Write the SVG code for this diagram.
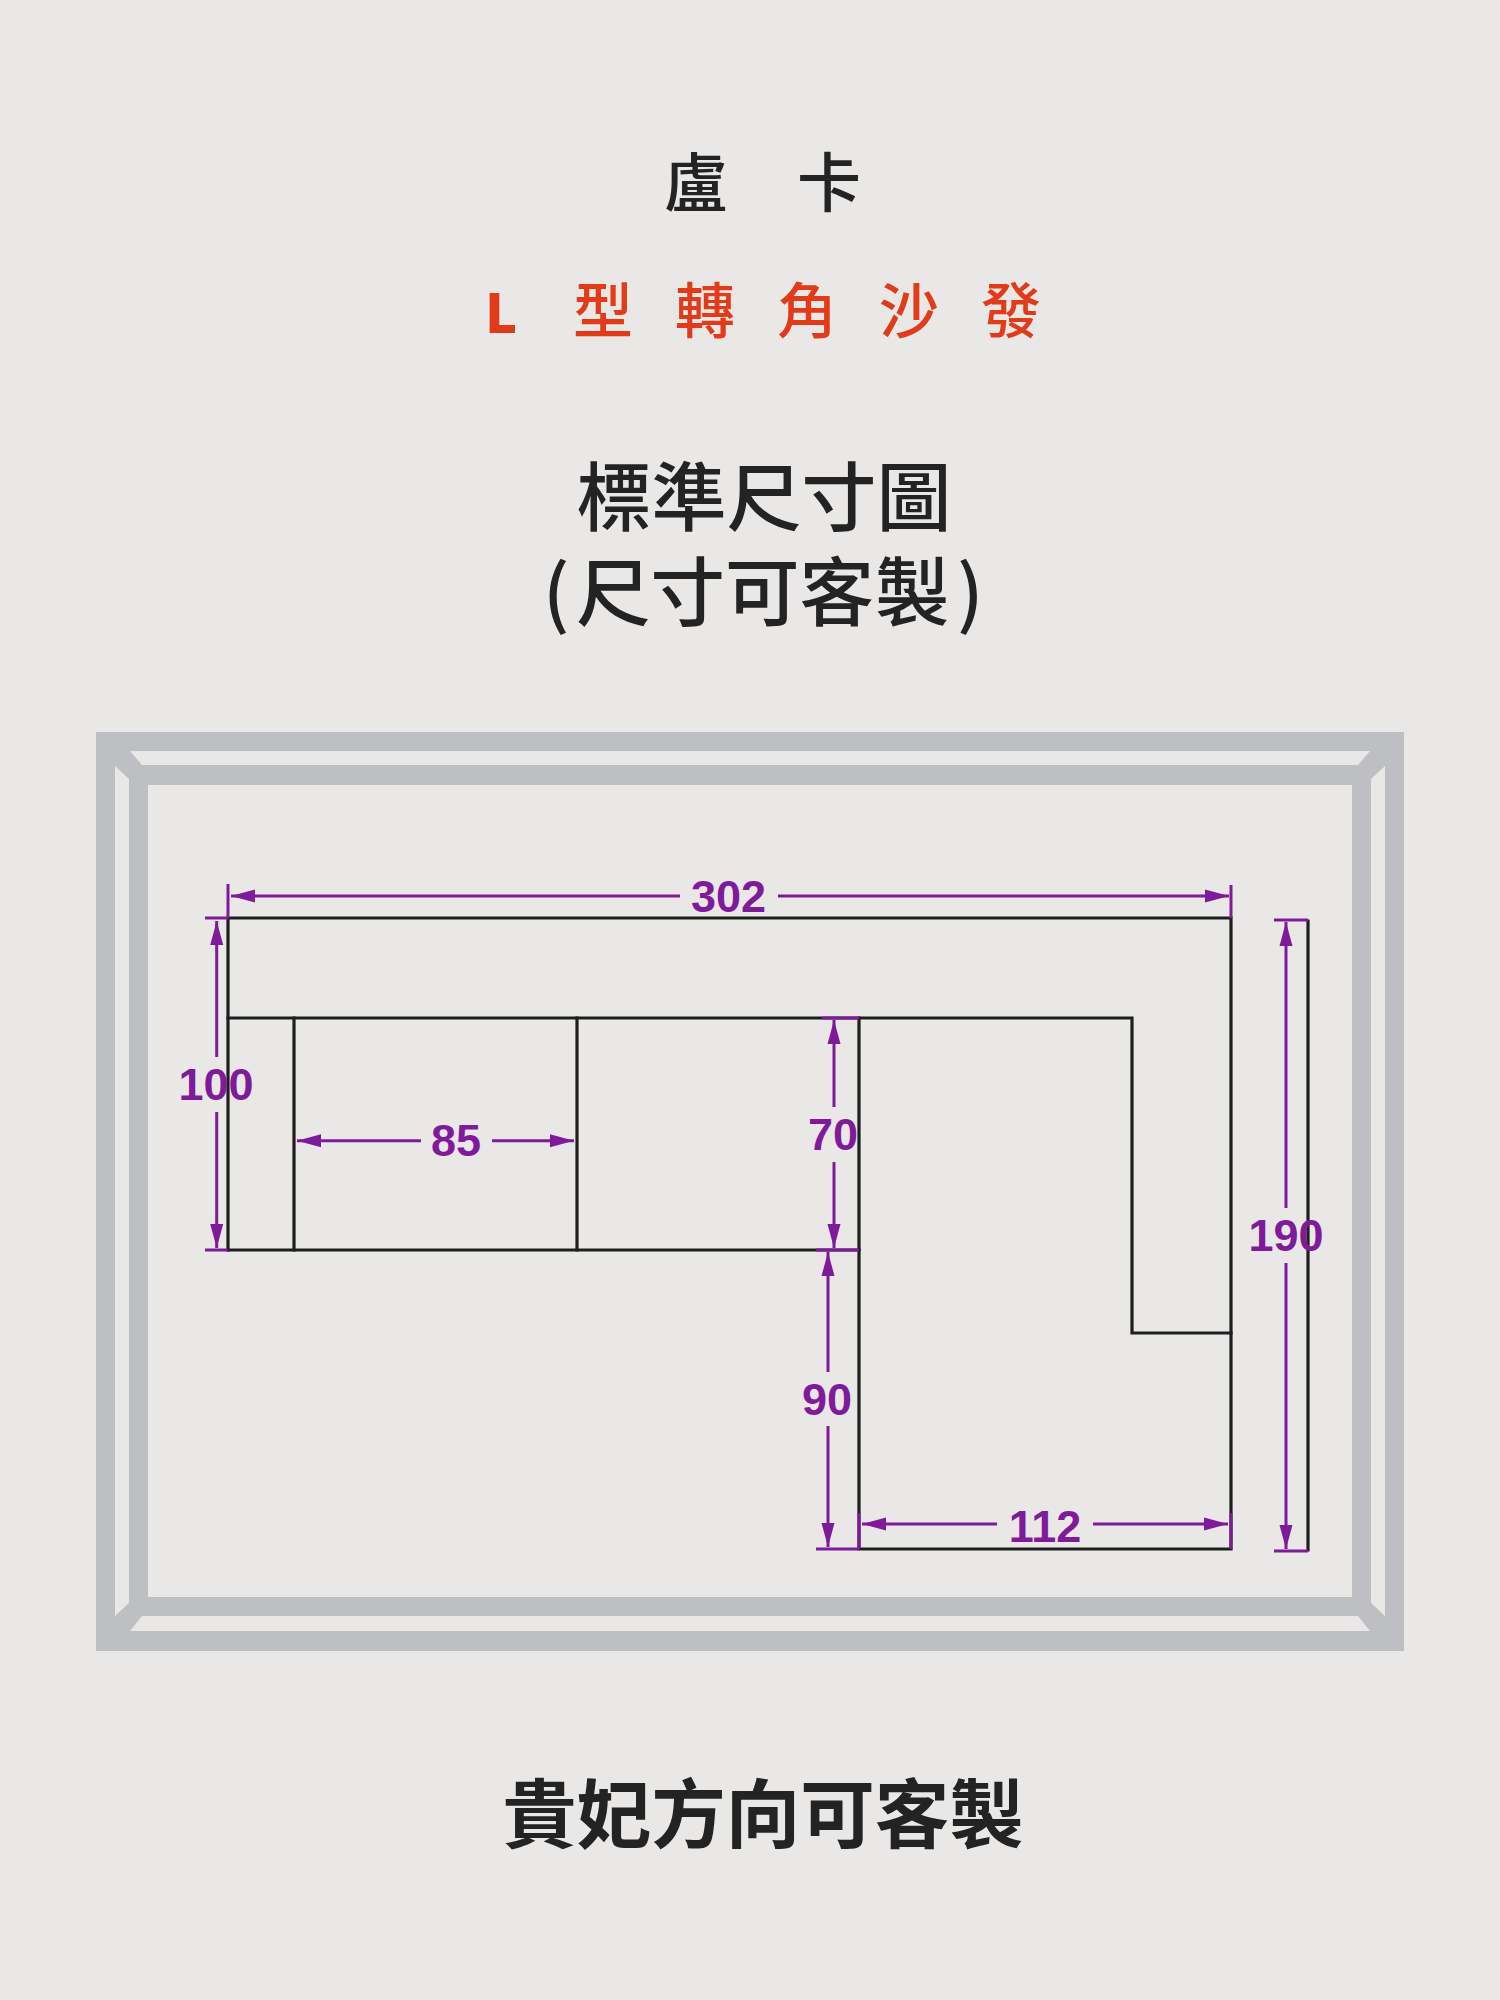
<svg xmlns="http://www.w3.org/2000/svg" width="1500" height="2000" viewBox="0 0 1500 2000">
<style>
.cjk{font-family:"Noto Sans CJK TC","Noto Sans CJK SC",sans-serif;fill:#232323}
.red{fill:#e23b1a;font-size:60px}
.dim{font-family:"Liberation Sans",Arial,sans-serif;font-weight:700;font-size:45px;fill:#7f1a9a;text-anchor:middle}
.frame{fill:#bebfc3}
.sofa{stroke:#1e1e1e;stroke-width:3.2;fill:none;stroke-linecap:square}
.line{stroke:#7f1a9a;stroke-width:3;fill:none}
.arrow{stroke:#7f1a9a;stroke-width:3;fill:none;marker-end:url(#head)}
</style>
<defs>
<marker id="head" markerUnits="userSpaceOnUse" markerWidth="26" markerHeight="14" refX="24" refY="7" orient="auto" viewBox="0 0 26 14"><path d="M0 0.5L24 7L0 13.5Z" fill="#7f1a9a"/></marker>
</defs>
<rect width="1500" height="2000" fill="#e9e8e6"/>
<g id="titles">
<text class="cjk" x="664 797" y="206" font-size="64" font-weight="500">盧卡</text>
<text class="cjk red" x="485" y="333" font-weight="900" style="font-size:54px">L</text>
<text class="cjk red" x="573 675 777 879 981" y="333" font-weight="500">型轉角沙發</text>
<text class="cjk" x="764" y="525" font-size="75" font-weight="500" text-anchor="middle">標準尺寸圖</text>
<text class="cjk" x="543 576 650.5 725 799.5 875 957" y="620" font-size="74.5" font-weight="500">(尺寸可客製)</text>
<text class="cjk" x="763" y="1842" font-size="74.5" font-weight="700" text-anchor="middle">貴妃方向可客製</text>
</g>
<g id="frame" class="frame">
<path fill-rule="evenodd" d="M96 732H1404V1651H96ZM115 751V1631H1385V751Z"/>
<path fill-rule="evenodd" d="M129 765H1371V1616H129ZM148 785V1597H1352V785Z"/>
<path d="M115 751H130L142 765H129V779L115 766Z"/>
<path d="M1385 751H1370L1358 765H1371V779L1385 766Z"/>
<path d="M129 1616H142L130 1631H115V1616L129 1603Z"/>
<path d="M1371 1616H1358L1370 1631H1385V1616L1371 1603Z"/>
</g>
<g id="sofa" class="sofa">
<path d="M228 1250V918H1231V1549H859V1018"/>
<path d="M228 1018H1132V1333H1231"/>
<path d="M228 1250H859"/>
<path d="M294 1018V1250M577 1018V1250"/>
<path d="M1308 921V1550"/>
</g>
<g id="dimensions">
<path class="line" d="M228 884V918M205 918H228M205 1250H228M1231 885V918M822 1018H859M816 1250H859M816 1549H859M859 1513V1549M1231 1513V1549M1274 920H1308M1274 1551H1308"/>
<path class="arrow" d="M680 896H231"/><path class="arrow" d="M778 896H1229"/>
<path class="arrow" d="M216.7 1057V921"/><path class="arrow" d="M216.7 1112V1248"/>
<path class="arrow" d="M421 1140.7H297"/><path class="arrow" d="M492 1140.7H574"/>
<path class="arrow" d="M834 1107V1020"/><path class="arrow" d="M834 1162V1248"/>
<path class="arrow" d="M828 1372V1252"/><path class="arrow" d="M828 1426V1547"/>
<path class="arrow" d="M997 1524H862"/><path class="arrow" d="M1093 1524H1228"/>
<path class="arrow" d="M1286 1208V922"/><path class="arrow" d="M1286 1263V1549"/>
<text class="dim" x="728.5" y="912">302</text>
<text class="dim" x="216" y="1100">100</text>
<text class="dim" x="456" y="1156">85</text>
<text class="dim" x="833" y="1150">70</text>
<text class="dim" x="827" y="1415">90</text>
<text class="dim" x="1045" y="1542">112</text>
<text class="dim" x="1286" y="1251">190</text>
</g>
</svg>
